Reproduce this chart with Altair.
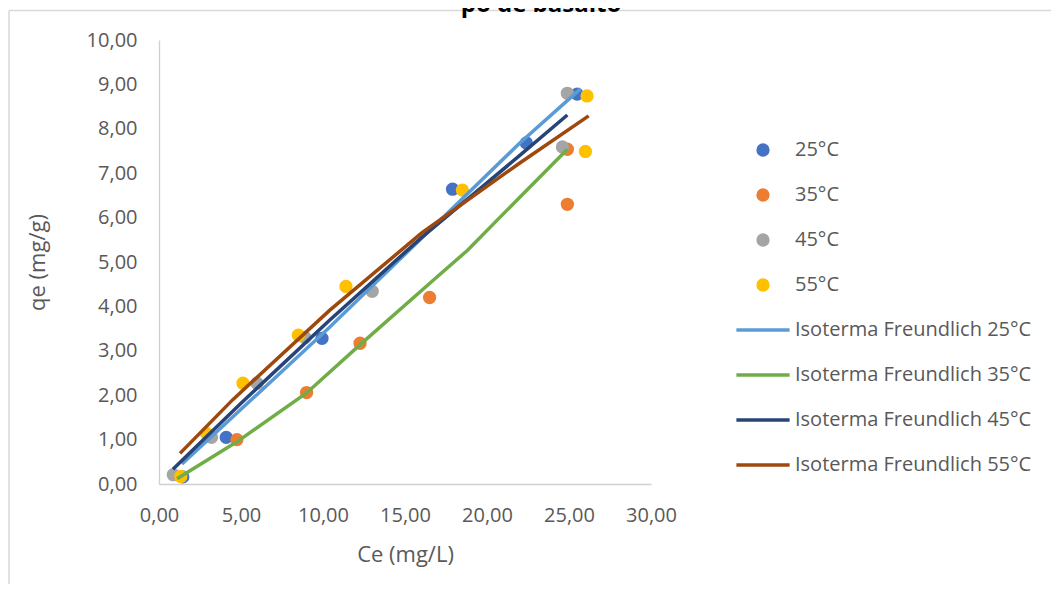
import altair as alt
import pandas as pd

# ---------------- data ----------------
series_names = ["25°C", "35°C", "45°C", "55°C"]
point_colors = ["#4472C4", "#ED7D31", "#A5A5A5", "#FFC000"]

ce_25 = [1.45, 4.10, 9.94, 17.9, 22.4, 25.5]
qe_25 = [0.16, 1.05, 3.28, 6.64, 7.68, 8.78]
ce_35 = [4.75, 9.00, 12.26, 16.5, 24.9, 24.9]
qe_35 = [1.00, 2.06, 3.17, 4.20, 7.54, 6.30]
ce_45 = [0.87, 3.20, 5.98, 8.90, 13.0, 24.6, 24.9]
qe_45 = [0.21, 1.05, 2.27, 3.30, 4.34, 7.59, 8.80]
ce_55 = [1.33, 2.90, 5.12, 8.50, 11.4, 18.5, 26.0, 26.1]
qe_55 = [0.17, 1.14, 2.27, 3.35, 4.45, 6.62, 7.49, 8.74]

curve_names = ["Isoterma Freundlich 25°C", "Isoterma Freundlich 35°C",
               "Isoterma Freundlich 45°C", "Isoterma Freundlich 55°C"]
curve_colors = ["#5B9BD5", "#70AD47", "#264478", "#9E480E"]

fx_25 = [1.40, 10.4, 16.5, 22.0, 25.7]
fy_25 = [0.45, 3.53, 5.71, 7.68, 8.90]
fx_35 = [1.10, 4.75, 9.00, 12.3, 16.6, 18.8, 22.0, 24.9]
fy_35 = [0.12, 0.95, 2.05, 3.15, 4.55, 5.26, 6.46, 7.54]
fx_45 = [0.85, 5.00, 10.4, 16.0, 22.0, 24.9]
fy_45 = [0.33, 1.82, 3.69, 5.55, 7.40, 8.31]
fx_55 = [1.28, 4.50, 10.4, 16.0, 22.0, 26.2]
fy_55 = [0.69, 1.90, 3.91, 5.65, 7.23, 8.29]

x_ticks = [0, 5, 10, 15, 20, 25, 30]
y_ticks = [0, 1, 2, 3, 4, 5, 6, 7, 8, 9, 10]
title_text = "pó de basalto"

# ---------------- tables ----------------
pt_rows = []
for name, xs, ys in zip(series_names, [ce_25, ce_35, ce_45, ce_55], [qe_25, qe_35, qe_45, qe_55]):
    for x, y in zip(xs, ys):
        pt_rows.append({"Ce": x, "qe": y, "serie": name})
pts = pd.DataFrame(pt_rows)

ln_rows = []
for name, xs, ys in zip(curve_names, [fx_25, fx_35, fx_45, fx_55], [fy_25, fy_35, fy_45, fy_55]):
    for i, (x, y) in enumerate(zip(xs, ys)):
        ln_rows.append({"Ce": x, "qe": y, "curva": name, "ordem": i})
lns = pd.DataFrame(ln_rows)

one = pd.DataFrame({"k": [0]})

FONT = "Open Sans"
GREY_TXT = "#595959"
label_expr = "replace(format(datum.value, '.2f'), '.', ',')"

x_enc = alt.X("Ce:Q",
              scale=alt.Scale(domain=[0, 30], nice=False, zero=False),
              axis=alt.Axis(values=x_ticks, title="Ce (mg/L)", labelExpr=label_expr,
                            labelFlush=False, labelOverlap=False,
                            labelPadding=21, titlePadding=19))
y_enc = alt.Y("qe:Q",
              scale=alt.Scale(domain=[0, 10], nice=False, zero=False),
              axis=alt.Axis(values=y_ticks, title="qe (mg/g)", labelExpr=label_expr,
                            labelFlush=False, labelOverlap=False,
                            labelPadding=22, titlePadding=37))

legend_common = dict(title=None, orient="none", direction="vertical", padding=0,
                     labelFont=FONT, labelFontSize=20, labelColor=GREY_TXT,
                     labelLimit=400, labelOffset=22, rowPadding=25, legendX=594)

points = alt.Chart(pts).mark_circle(size=177, opacity=1).encode(
    x=x_enc, y=y_enc,
    color=alt.Color("serie:N",
                    scale=alt.Scale(domain=series_names, range=point_colors),
                    legend=alt.Legend(legendY=100, symbolType="circle", symbolSize=177,
                                      symbolStrokeWidth=0, **legend_common)),
)

lines = alt.Chart(lns).mark_line(strokeWidth=3.5).encode(
    x=x_enc, y=y_enc,
    order="ordem:Q",
    color=alt.Color("curva:N",
                    scale=alt.Scale(domain=curve_names, range=curve_colors),
                    legend=alt.Legend(legendY=280, symbolType="M-3.8,0H3.8", symbolSize=196,
                                      symbolStrokeWidth=3.5, **legend_common)),
)

frame_left = alt.Chart(one).mark_rule(color="#D9D9D9", strokeWidth=1.5).encode(
    x=alt.value(-150), y=alt.value(-29.5), y2=alt.value(560))
frame_top = alt.Chart(one).mark_rule(color="#D9D9D9", strokeWidth=1.5).encode(
    x=alt.value(-150), x2=alt.value(900), y=alt.value(-29.5))

# title partly cut off at the top edge, as in the reference
title = alt.Chart(one).mark_text(text=title_text, font=FONT, fontWeight="bold",
                                 fontSize=24, color="#000000", align="center",
                                 baseline="alphabetic").encode(
    x=alt.value(382), y=alt.value(-28))

chart = alt.layer(frame_left, frame_top, title, points, lines).resolve_scale(
    color="independent"
).properties(
    width=492, height=444,
    autosize=alt.AutoSizeParams(type="none"),
    padding={"left": 151, "top": 32, "right": 400, "bottom": 100},
).configure_view(stroke=None).configure_axis(
    grid=False, ticks=False, tickSize=0,
    domainColor="#D0D0D0", domainWidth=1.3,
    labelFont=FONT, labelFontSize=20, labelColor=GREY_TXT,
    titleFont=FONT, titleFontSize=22, titleFontWeight="normal", titleColor=GREY_TXT,
)

chart.save("out.html", embed_options={"renderer": "svg", "actions": False})
